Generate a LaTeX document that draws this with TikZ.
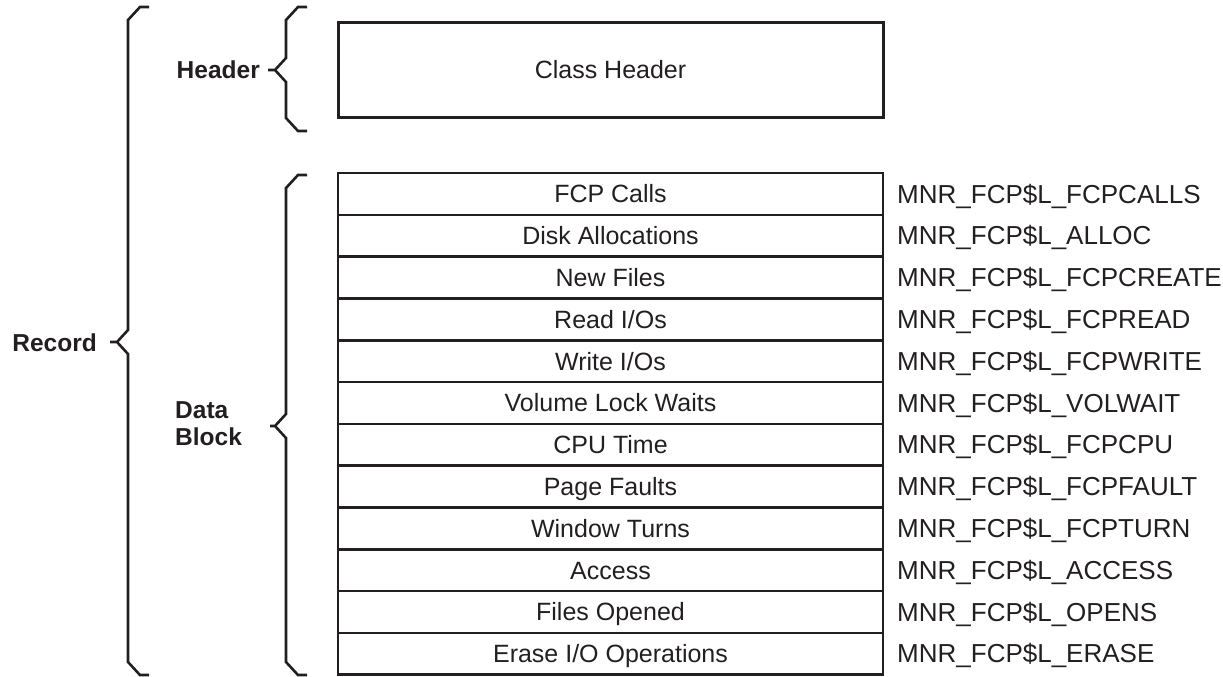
\documentclass[tikz,border=0pt]{standalone}
\usepackage{fontspec}
\setmainfont{Liberation Sans}
\definecolor{ink}{HTML}{231F20}
\begin{document}
\begin{tikzpicture}[x=1pt,y=-1pt]
    \useasboundingbox (0,0) rectangle (1223,677);
    \tikzstyle{every node}=[inner sep=0pt, text=ink, font=\fontsize{25}{27}\selectfont]
    \tikzstyle{brace}=[ink, line width=2.6pt, line join=miter]
    \tikzstyle{part}=[font=\fontsize{24.5}{27}\selectfont\bfseries, align=left]

    % braces
    \draw[brace] (149,7) -- (140,7) -- (128,20) -- (128,330) -- (117,342) -- (110,342)
                 (117,342) -- (128,354) -- (128,662) -- (140,675) -- (149,675);
    \draw[brace] (307,7) -- (298,7) -- (286,20) -- (286,58) -- (275,70) -- (268,70)
                 (275,70) -- (286,82) -- (286,118) -- (298,131) -- (307,131);
    \draw[brace] (307,175) -- (298,175) -- (286,188) -- (286,414) -- (275,426) -- (270,426)
                 (275,426) -- (286,438) -- (286,662) -- (298,675) -- (307,675);

    \node[part, anchor=east] (record) at (97,343) {Record};
    \node[part, anchor=east] (header) at (260,70) {Header};
    \node[part, anchor=west] (data) at (175,424) {Data\\Block};

    \node[draw=ink, line width=3pt, minimum width=545pt, minimum height=94pt] (classhdr) at (610.5,70) {Class Header};

    \tikzstyle{every node}=[inner sep=0pt, text=ink, font=\fontsize{25}{27}\selectfont, draw=ink, line width=2.6pt, minimum width=545pt, minimum height=41.8pt, text height=18pt, text depth=0pt]
    \node (calls) at (610.5,193.9) {FCP Calls};
    \node (alloc) at (610.5,235.7) {Disk Allocations};
    \node (create) at (610.5,277.5) {New Files};
    \node (read) at (610.5,319.3) {Read I/Os};
    \node (write) at (610.5,361.1) {Write I/Os};
    \node (volwait) at (610.5,402.9) {Volume Lock Waits};
    \node (cpu) at (610.5,444.7) {CPU Time};
    \node (fault) at (610.5,486.5) {Page Faults};
    \node (turn) at (610.5,528.3) {Window Turns};
    \node (access) at (610.5,570.1) {Access};
    \node (opens) at (610.5,611.9) {Files Opened};
    \node (erase) at (610.5,653.7) {Erase I/O Operations};

    \tikzstyle{every node}=[inner sep=0pt, text=ink, font=\fontsize{26}{28}\selectfont, anchor=west, text height=18.5pt, text depth=0pt]
    \node (ncalls) at (897,193.9) {MNR\_FCP\$L\_FCPCALLS};
    \node (nalloc) at (897,235.7) {MNR\_FCP\$L\_ALLOC};
    \node (ncreate) at (897,277.5) {MNR\_FCP\$L\_FCPCREATE};
    \node (nread) at (897,319.3) {MNR\_FCP\$L\_FCPREAD};
    \node (nwrite) at (897,361.1) {MNR\_FCP\$L\_FCPWRITE};
    \node (nvolwait) at (897,402.9) {MNR\_FCP\$L\_VOLWAIT};
    \node (ncpu) at (897,444.7) {MNR\_FCP\$L\_FCPCPU};
    \node (nfault) at (897,486.5) {MNR\_FCP\$L\_FCPFAULT};
    \node (nturn) at (897,528.3) {MNR\_FCP\$L\_FCPTURN};
    \node (naccess) at (897,570.1) {MNR\_FCP\$L\_ACCESS};
    \node (nopens) at (897,611.9) {MNR\_FCP\$L\_OPENS};
    \node (nerase) at (897,653.7) {MNR\_FCP\$L\_ERASE};
\end{tikzpicture}
\end{document}
